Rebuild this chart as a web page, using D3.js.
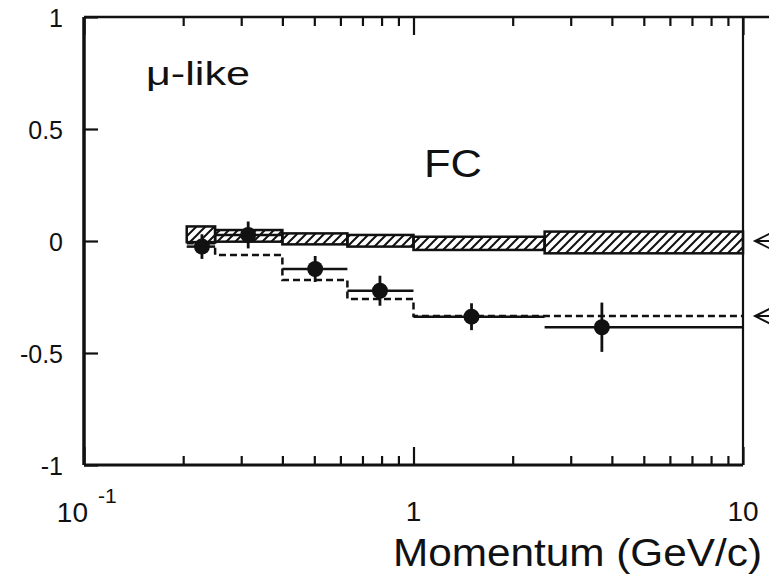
<!DOCTYPE html>
<html>
<head>
<meta charset="utf-8">
<script src="https://cdn.jsdelivr.net/npm/d3@7/dist/d3.min.js"></script>
<style>
  body { margin: 0; background: #fff; }
  text { font-family: "Liberation Sans", Arial, Helvetica, sans-serif; fill: #111; }
</style>
</head>
<body>
<div class="my_div"></div>
<script>
// Momentum bins (GeV/c)
var binLo = [0.205, 0.25, 0.4, 0.63, 1.0, 2.5];
var binHi = [0.25, 0.4, 0.63, 1.0, 2.5, 10];

// Data points (double ratio) with errors
var dataX = [0.228, 0.315, 0.503, 0.791, 1.50, 3.73];
var dataY = [-0.025, 0.027, -0.125, -0.222, -0.338, -0.385];
var dataErr = [0.055, 0.06, 0.058, 0.067, 0.06, 0.11];

// Dashed prediction
var predY = [-0.01, -0.0625, -0.174, -0.259, -0.335, -0.335];

// Hatched systematic boxes
var boxTop = [0.065, 0.049, 0.034, 0.027, 0.019, 0.042];
var boxBot = [-0.005, -0.003, -0.015, -0.025, -0.040, -0.055];

// Arrows on the right side
var arrowY = [0, -0.335];

// Ticks
var yTicks = [-1, -0.5, 0, 0.5, 1];
var yTickLabels = ["-1", "-0.5", "0", "0.5", "1"];
var xMajor = [0.1, 1, 10];
var xMinor = [0.2, 0.3, 0.4, 0.5, 0.6, 0.7, 0.8, 0.9, 2, 3, 4, 5, 6, 7, 8, 9];

var width = 769,
    height = 577;

var x = d3.scaleLog()
    .domain([0.1, 10])
    .range([84, 743]);

var y = d3.scaleLinear()
    .domain([-1, 1])
    .range([465, 17]);

var svg = d3.select(".my_div")
    .append("svg")
    .attr("width", width)
    .attr("height", height)

// hatch pattern
svg.append("defs")
    .append("pattern")
    .attr("id", "hatch")
    .attr("patternUnits", "userSpaceOnUse")
    .attr("width", 9)
    .attr("height", 9)
    .append("path")
    .attr("d", "M-2,2 l4,-4 M0,9 l9,-9 M7,11 l4,-4")
    .attr("stroke", "#111")
    .attr("stroke-width", 2)

// ticks (inward)
svg.append("g")
    .attr("transform", "translate(0," + y(-1) + ")")
    .call(d3.axisBottom(x).tickValues(xMinor).tickSize(-9).tickFormat(""))
    .call(g => g.select(".domain").remove())
svg.append("g")
    .attr("transform", "translate(0," + y(-1) + ")")
    .call(d3.axisBottom(x).tickValues(xMajor).tickSize(-18).tickFormat(""))
    .call(g => g.select(".domain").remove())
svg.append("g")
    .attr("transform", "translate(0," + y(1) + ")")
    .call(d3.axisTop(x).tickValues(xMinor).tickSize(-9).tickFormat(""))
    .call(g => g.select(".domain").remove())
svg.append("g")
    .attr("transform", "translate(0," + y(1) + ")")
    .call(d3.axisTop(x).tickValues(xMajor).tickSize(-18).tickFormat(""))
    .call(g => g.select(".domain").remove())
svg.append("g")
    .attr("transform", "translate(" + x(0.1) + ",0)")
    .call(d3.axisLeft(y).tickValues(yTicks).tickSize(-14).tickFormat(""))
    .call(g => g.select(".domain").remove())

svg.selectAll(".tick line")
    .attr("stroke", "#111")
    .attr("stroke-width", 2.2)

// frame
svg.append("line")
    .attr("x1", x(0.1)).attr("x2", width)
    .attr("y1", y(1)).attr("y2", y(1))
    .attr("stroke", "#111").attr("stroke-width", 2.5)
svg.append("line")
    .attr("x1", x(0.1)).attr("x2", x(10))
    .attr("y1", y(-1)).attr("y2", y(-1))
    .attr("stroke", "#111").attr("stroke-width", 3)
svg.append("line")
    .attr("x1", x(0.1)).attr("x2", x(0.1))
    .attr("y1", y(1)).attr("y2", y(-1))
    .attr("stroke", "#111").attr("stroke-width", 3.5)
svg.append("line")
    .attr("x1", x(10)).attr("x2", x(10))
    .attr("y1", y(1)).attr("y2", y(-1))
    .attr("stroke", "#111").attr("stroke-width", 2.2)

// y tick labels
svg.selectAll(".ylab")
    .data(yTicks)
    .enter()
    .append("text")
    .attr("x", 63)
    .attr("y", (d) => { return y(d) + 10; })
    .attr("text-anchor", "end")
    .attr("font-size", 25)
    .text((d, i) => { return yTickLabels[i]; })

// x tick labels
svg.append("text").text("10")
    .attr("x", x(0.1) + 4).attr("y", 522)
    .attr("text-anchor", "end").attr("font-size", 28)
svg.append("text").text("-1")
    .attr("x", x(0.1) + 14).attr("y", 503)
    .attr("font-size", 21)
svg.append("text").text("1")
    .attr("x", x(1)).attr("y", 521)
    .attr("text-anchor", "middle").attr("font-size", 28)
svg.append("text").text("10")
    .attr("x", x(10)).attr("y", 521)
    .attr("text-anchor", "middle").attr("font-size", 28)

// axis title + annotations
svg.append("text").text("Momentum (GeV/c)")
    .attr("x", 393).attr("y", 566)
    .attr("font-size", 39)
    .attr("textLength", 369).attr("lengthAdjust", "spacingAndGlyphs")
svg.append("text").text("\u03bc-like")
    .attr("x", 146).attr("y", 85)
    .attr("font-size", 33)
    .attr("textLength", 104).attr("lengthAdjust", "spacingAndGlyphs")
svg.append("text").text("FC")
    .attr("x", 424).attr("y", 177)
    .attr("font-size", 38)
    .attr("textLength", 58).attr("lengthAdjust", "spacingAndGlyphs")

// hatched boxes
svg.selectAll(".box")
    .data(binLo)
    .enter()
    .append("rect")
    .attr("x", (d) => { return x(d); })
    .attr("width", (d, i) => { return x(binHi[i]) - x(d); })
    .attr("y", (d, i) => { return y(boxTop[i]); })
    .attr("height", (d, i) => { return y(boxBot[i]) - y(boxTop[i]); })
    .attr("fill", "url(#hatch)")
    .attr("stroke", "#111")
    .attr("stroke-width", 2.5)

// dashed step prediction
var stepPts = [];
binLo.forEach((d, i) => {
    stepPts.push([d, predY[i]]);
    stepPts.push([binHi[i], predY[i]]);
})
var line = d3.line()
    .x((d) => { return x(d[0]); })
    .y((d) => { return y(d[1]); })

svg.append("path")
    .datum(stepPts)
    .attr("d", line)
    .attr("fill", "none")
    .attr("stroke", "#111")
    .attr("stroke-width", 2.5)
    .attr("stroke-dasharray", "7,4")

// data: horizontal bin bars
svg.selectAll(".hbar")
    .data(dataY)
    .enter()
    .append("line")
    .attr("x1", (d, i) => { return x(binLo[i]); })
    .attr("x2", (d, i) => { return x(binHi[i]); })
    .attr("y1", (d) => { return y(d); })
    .attr("y2", (d) => { return y(d); })
    .attr("stroke", "#111")
    .attr("stroke-width", 2.5)

// data: vertical error bars
svg.selectAll(".vbar")
    .data(dataY)
    .enter()
    .append("line")
    .attr("x1", (d, i) => { return x(dataX[i]); })
    .attr("x2", (d, i) => { return x(dataX[i]); })
    .attr("y1", (d, i) => { return y(d + dataErr[i]); })
    .attr("y2", (d, i) => { return y(d - dataErr[i]); })
    .attr("stroke", "#111")
    .attr("stroke-width", 2.8)

svg.selectAll("circle")
    .data(dataY)
    .enter()
    .append("circle")
    .attr("r", 8)
    .attr("cx", (d, i) => { return x(dataX[i]); })
    .attr("cy", (d) => { return y(d); })
    .attr("fill", "#111")

// arrows to the right of the frame
svg.selectAll(".arrow")
    .data(arrowY)
    .enter()
    .append("path")
    .attr("d", (d) => {
        var ty = y(d), tx = x(10) + 12;
        return "M" + (tx + 16) + "," + (ty - 8) + " L" + tx + "," + ty + " L" + (tx + 16) + "," + (ty + 8)
            + " M" + tx + "," + ty + " L" + width + "," + ty;
    })
    .attr("fill", "none")
    .attr("stroke", "#111")
    .attr("stroke-width", 2)
</script>
</body>
</html>
